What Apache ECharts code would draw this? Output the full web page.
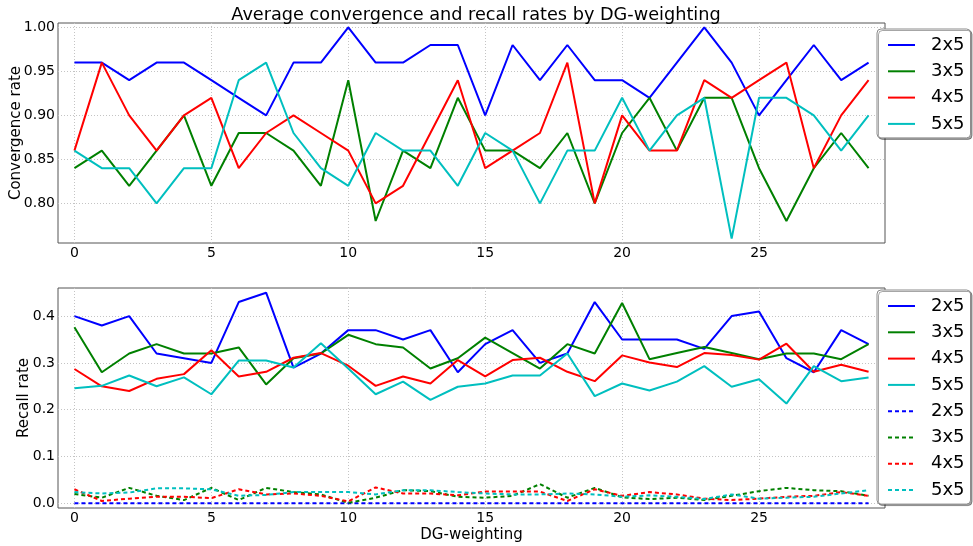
<!DOCTYPE html>
<html>
<head>
<meta charset="utf-8">
<script src="https://cdn.jsdelivr.net/npm/echarts@6/dist/echarts.min.js"></script>
<style>
  html, body { margin: 0; padding: 0; background: #fff; }
  #chart { width: 973px; height: 546px; }
</style>
</head>
<body>
<div id="chart"></div>
<script>
// DG-weighting steps on the x axis
const dgWeights = [0, 1, 2, 3, 4, 5, 6, 7, 8, 9, 10, 11, 12, 13, 14, 15, 16, 17, 18, 19, 20, 21, 22, 23, 24, 25, 26, 27, 28, 29];
const gridSizes = ['2x5', '3x5', '4x5', '5x5'];

// Convergence rate per grid size
const conv2x5 = [0.96, 0.96, 0.94, 0.96, 0.96, 0.94, 0.92, 0.90, 0.96, 0.96, 1.00, 0.96, 0.96, 0.98, 0.98, 0.90, 0.98, 0.94, 0.98, 0.94, 0.94, 0.92, 0.96, 1.00, 0.96, 0.90, 0.94, 0.98, 0.94, 0.96];
const conv3x5 = [0.84, 0.86, 0.82, 0.86, 0.90, 0.82, 0.88, 0.88, 0.86, 0.82, 0.94, 0.78, 0.86, 0.84, 0.92, 0.86, 0.86, 0.84, 0.88, 0.80, 0.88, 0.92, 0.86, 0.92, 0.92, 0.84, 0.78, 0.84, 0.88, 0.84];
const conv4x5 = [0.86, 0.96, 0.90, 0.86, 0.90, 0.92, 0.84, 0.88, 0.90, 0.88, 0.86, 0.80, 0.82, 0.88, 0.94, 0.84, 0.86, 0.88, 0.96, 0.80, 0.90, 0.86, 0.86, 0.94, 0.92, 0.94, 0.96, 0.84, 0.90, 0.94];
const conv5x5 = [0.86, 0.84, 0.84, 0.80, 0.84, 0.84, 0.94, 0.96, 0.88, 0.84, 0.82, 0.88, 0.86, 0.86, 0.82, 0.88, 0.86, 0.80, 0.86, 0.86, 0.92, 0.86, 0.90, 0.92, 0.76, 0.92, 0.92, 0.90, 0.86, 0.90];

// Recall rate per grid size (solid)
const recall2x5 = [0.40, 0.38, 0.40, 0.32, 0.31, 0.30, 0.43, 0.45, 0.29, 0.32, 0.37, 0.37, 0.35, 0.37, 0.28, 0.34, 0.37, 0.30, 0.32, 0.43, 0.35, 0.35, 0.35, 0.33, 0.40, 0.41, 0.31, 0.28, 0.37, 0.34];
const recall3x5 = [0.376, 0.28, 0.32, 0.34, 0.32, 0.32, 0.333, 0.254, 0.31, 0.32, 0.36, 0.34, 0.333, 0.288, 0.31, 0.354, 0.321, 0.288, 0.34, 0.32, 0.428, 0.308, 0.321, 0.334, 0.321, 0.308, 0.32, 0.32, 0.308, 0.34];
const recall4x5 = [0.287, 0.25, 0.24, 0.266, 0.276, 0.327, 0.271, 0.281, 0.311, 0.321, 0.294, 0.251, 0.271, 0.256, 0.306, 0.271, 0.306, 0.311, 0.281, 0.261, 0.316, 0.301, 0.291, 0.321, 0.317, 0.307, 0.341, 0.281, 0.296, 0.281];
const recall5x5 = [0.246, 0.251, 0.273, 0.25, 0.269, 0.233, 0.305, 0.305, 0.29, 0.342, 0.288, 0.233, 0.26, 0.221, 0.249, 0.256, 0.273, 0.273, 0.32, 0.229, 0.256, 0.241, 0.26, 0.293, 0.249, 0.265, 0.213, 0.293, 0.261, 0.269];

// Recall rate per grid size (dashed)
const low2x5 = [0, 0, 0, 0, 0, 0, 0, 0, 0, 0, 0, 0, 0, 0, 0, 0, 0, 0, 0, 0, 0, 0, 0, 0, 0, 0, 0, 0, 0, 0];
const low3x5 = [0.02, 0.012, 0.033, 0.016, 0.007, 0.033, 0.007, 0.033, 0.024, 0.019, 0.001, 0.012, 0.028, 0.026, 0.014, 0.012, 0.016, 0.041, 0.012, 0.033, 0.013, 0.009, 0.012, 0.007, 0.016, 0.026, 0.033, 0.028, 0.026, 0.016];
const low4x5 = [0.03, 0.005, 0.01, 0.014, 0.014, 0.011, 0.03, 0.019, 0.021, 0.016, 0.004, 0.034, 0.021, 0.021, 0.017, 0.025, 0.025, 0.025, 0.005, 0.03, 0.016, 0.024, 0.019, 0.01, 0.007, 0.01, 0.014, 0.016, 0.024, 0.016];
const low5x5 = [0.024, 0.021, 0.023, 0.032, 0.032, 0.03, 0.016, 0.018, 0.024, 0.024, 0.024, 0.019, 0.028, 0.028, 0.024, 0.021, 0.019, 0.019, 0.021, 0.019, 0.014, 0.017, 0.014, 0.009, 0.019, 0.01, 0.012, 0.014, 0.021, 0.028];

// Tick labels
const xTicks = [0, 5, 10, 15, 20, 25];
const convTicks = [0.80, 0.85, 0.90, 0.95, 1.00];
const recallTicks = [0.0, 0.1, 0.2, 0.3, 0.4];

const colors = ['#0000ff', '#008000', '#ff0000', '#00bfbf'];
const FONT = 'DejaVu Sans';

const pairs = vals => dgWeights.map((x, i) => [x, vals[i]]);

function lineSeries(name, vals, color, gridIdx, dashed) {
  return {
    type: 'line',
    name: name,
    xAxisIndex: gridIdx,
    yAxisIndex: gridIdx,
    data: pairs(vals),
    symbol: 'none',
    silent: true,
    animation: false,
    lineStyle: { color: color, width: 2, type: dashed ? [4, 3] : 'solid' },
    itemStyle: { color: color },
    z: 3
  };
}

function xAxis(gridIdx, withName) {
  return {
    type: 'value', gridIndex: gridIdx, min: -0.6, max: 29.6,
    axisLine: { show: false },
    axisTick: { show: false, customValues: xTicks },
    axisLabel: { customValues: xTicks, fontFamily: FONT, fontSize: 14, color: '#000', margin: 3 },
    splitLine: { show: true, lineStyle: { color: '#c4c4c4', type: [1, 2], width: 1 } },
    name: withName ? 'DG-weighting' : '',
    nameLocation: 'middle', nameGap: 20, nameMoveOverlap: false,
    nameTextStyle: { fontFamily: FONT, fontSize: 15, color: '#000', verticalAlign: 'top' }
  };
}

function yAxis(gridIdx, min, max, ticks, digits, name, gap) {
  return {
    type: 'value', gridIndex: gridIdx, min: min, max: max,
    axisLine: { show: false },
    axisTick: { show: false, customValues: ticks },
    axisLabel: { customValues: ticks, formatter: v => v.toFixed(digits), fontFamily: FONT, fontSize: 14, color: '#000', margin: 3 },
    splitLine: { show: true, lineStyle: { color: '#c4c4c4', type: [1, 2], width: 1 } },
    name: name, nameLocation: 'middle', nameGap: gap, nameMoveOverlap: false,
    nameTextStyle: { fontFamily: FONT, fontSize: 15, color: '#000' }
  };
}

const legendBase = {
  orient: 'vertical', left: 877,
  backgroundColor: '#fff', borderColor: '#8a8a8a', borderWidth: 1, borderRadius: 4,
  shadowColor: 'rgba(0,0,0,0.35)', shadowOffsetX: 1.5, shadowOffsetY: 1.5, shadowBlur: 0,
  padding: [7, 6, 5, 10], itemWidth: 27, itemHeight: 14, itemGap: 8.3,
  selectedMode: false,
  itemStyle: { opacity: 0 },
  formatter: n => n.split(' ')[0],
  textStyle: { fontFamily: FONT, fontSize: 18, color: '#000', padding: [0, 0, 0, 11] }
};

const series = [];
const convData = [conv2x5, conv3x5, conv4x5, conv5x5];
const recallData = [recall2x5, recall3x5, recall4x5, recall5x5];
const lowData = [low2x5, low3x5, low4x5, low5x5];
gridSizes.forEach((g, i) => series.push(lineSeries(g, convData[i], colors[i], 0, false)));
gridSizes.forEach((g, i) => series.push(lineSeries(g, recallData[i], colors[i], 1, false)));
gridSizes.forEach((g, i) => series.push(lineSeries(g + ' dashed', lowData[i], colors[i], 1, true)));

const gridBase = {
  left: 58, width: 827, height: 220, show: true,
  borderColor: '#555', borderWidth: 1, backgroundColor: 'transparent',
  containLabel: false, outerBoundsMode: 'none'
};

const chart = echarts.init(document.getElementById('chart'), null, { renderer: 'canvas' });
chart.setOption({
  animation: false,
  backgroundColor: '#fff',
  title: {
    text: 'Average convergence and recall rates by DG-weighting',
    left: 471, top: 1, textAlign: 'center',
    textStyle: { fontFamily: FONT, fontSize: 17.7, fontWeight: 'normal', color: '#000' }
  },
  grid: [
    Object.assign({}, gridBase, { top: 23 }),
    Object.assign({}, gridBase, { top: 288 })
  ],
  xAxis: [xAxis(0, false), xAxis(1, true)],
  yAxis: [
    yAxis(0, 0.755, 1.005, convTicks, 2, 'Convergence rate', 34),
    yAxis(1, -0.01, 0.46, recallTicks, 1, 'Recall rate', 26)
  ],
  legend: [
    Object.assign({}, legendBase, { top: 29, data: gridSizes.slice() }),
    Object.assign({}, legendBase, { top: 290, data: gridSizes.concat(gridSizes.map(g => g + ' dashed')) })
  ],
  series: series
});
</script>
</body>
</html>
